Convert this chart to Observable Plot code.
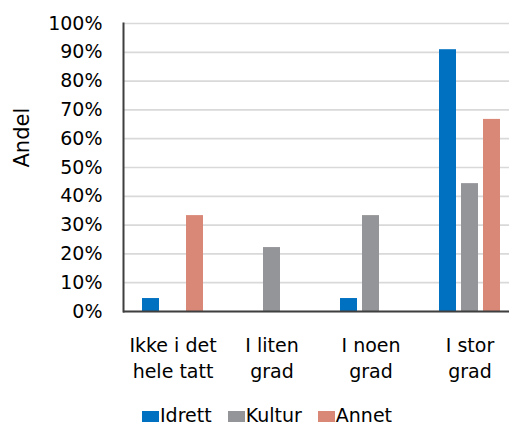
<!DOCTYPE html>
<html>
<head>
<meta charset="utf-8">
<script src="https://cdn.jsdelivr.net/npm/d3@7"></script>
<script src="https://cdn.jsdelivr.net/npm/@observablehq/plot@0.6"></script>
<style>
  html, body { margin: 0; padding: 0; background: #fff; overflow: hidden; }
  #wrap { position: relative; width: 509px; height: 424px; overflow: hidden; font-family: "DejaVu Sans", sans-serif; }
  #wrap svg { overflow: hidden; }
  #legend { position: absolute; left: 142px; top: 405.5px; display: flex; font-size: 19px; line-height: 19px; color: #000; }
  .item { display: flex; align-items: flex-start; margin-right: 16px; }
  .sw { width: 17px; height: 11px; margin-top: 5px; margin-right: 1px; }
</style>
</head>
<body>
<div id="wrap"></div>
<script>
const categories = ["Ikke i det hele tatt", "I liten grad", "I noen grad", "I stor grad"];
const tickLabels = ["Ikke i det\nhele tatt", "I liten\ngrad", "I noen\ngrad", "I stor\ngrad"];
const series = ["Idrett", "Kultur", "Annet"];
const colors = ["#0070C0", "#939598", "#D98877"];
const idrett = [0.045, 0, 0.045, 0.909];
const kultur = [0, 0.222, 0.333, 0.444];
const annet = [0.333, 0, 0, 0.667];
const yTicks = [0, 0.1, 0.2, 0.3, 0.4, 0.5, 0.6, 0.7, 0.8, 0.9, 1.0];
const yLabel = "Andel";

const values = {Idrett: idrett, Kultur: kultur, Annet: annet};
const data = categories.flatMap((c, i) => series.map(s => ({cat: c, series: s, value: values[s][i]})));

const insets = {Idrett: [19, 63], Kultur: [41, 41], Annet: [63, 19]};
const axisColor = "#3f3f3f";

const chart = Plot.plot({
  width: 509,
  height: 392,
  marginTop: 23,
  marginBottom: 81,
  marginLeft: 123,
  marginRight: -10,
  style: {fontFamily: "DejaVu Sans, sans-serif", fontSize: "19px", color: "#000", background: "#fff"},
  x: {type: "band", domain: categories, padding: 0},
  y: {domain: [0, 1]},
  color: {domain: series, range: colors},
  marks: [
    Plot.gridY(yTicks, {stroke: "#d9d9d9", strokeOpacity: 1, strokeWidth: 1.7}),
    ...series.map(s => Plot.barY(data.filter(d => d.series === s), {
      x: "cat", y: "value", fill: "series",
      insetLeft: insets[s][0], insetRight: insets[s][1]
    })),
    Plot.ruleY([0], {stroke: axisColor, strokeWidth: 2}),
    Plot.frame({anchor: "left", stroke: axisColor, strokeWidth: 2}),
    Plot.axisY(yTicks, {
      tickFormat: d3.format(".0%"), tickSize: 0, tickPadding: 21, fontSize: 19, label: null
    }),
    Plot.text([yLabel], {
      frameAnchor: "left", rotate: -90, dx: -101, fontSize: 21, fill: "#000"
    }),
    Plot.axisX({
      tickSize: 0, tickPadding: 21.5, fontSize: 19, lineHeight: 1.4,
      tickFormat: d => tickLabels[categories.indexOf(d)], label: null
    })
  ]
});

const wrap = document.getElementById("wrap");
wrap.appendChild(chart);

const legend = document.createElement("div");
legend.id = "legend";
series.forEach((s, i) => {
  const item = document.createElement("div");
  item.className = "item";
  const sw = document.createElement("div");
  sw.className = "sw";
  sw.style.background = colors[i];
  const t = document.createElement("span");
  t.textContent = s;
  item.appendChild(sw);
  item.appendChild(t);
  legend.appendChild(item);
});
wrap.appendChild(legend);
</script>
</body>
</html>
